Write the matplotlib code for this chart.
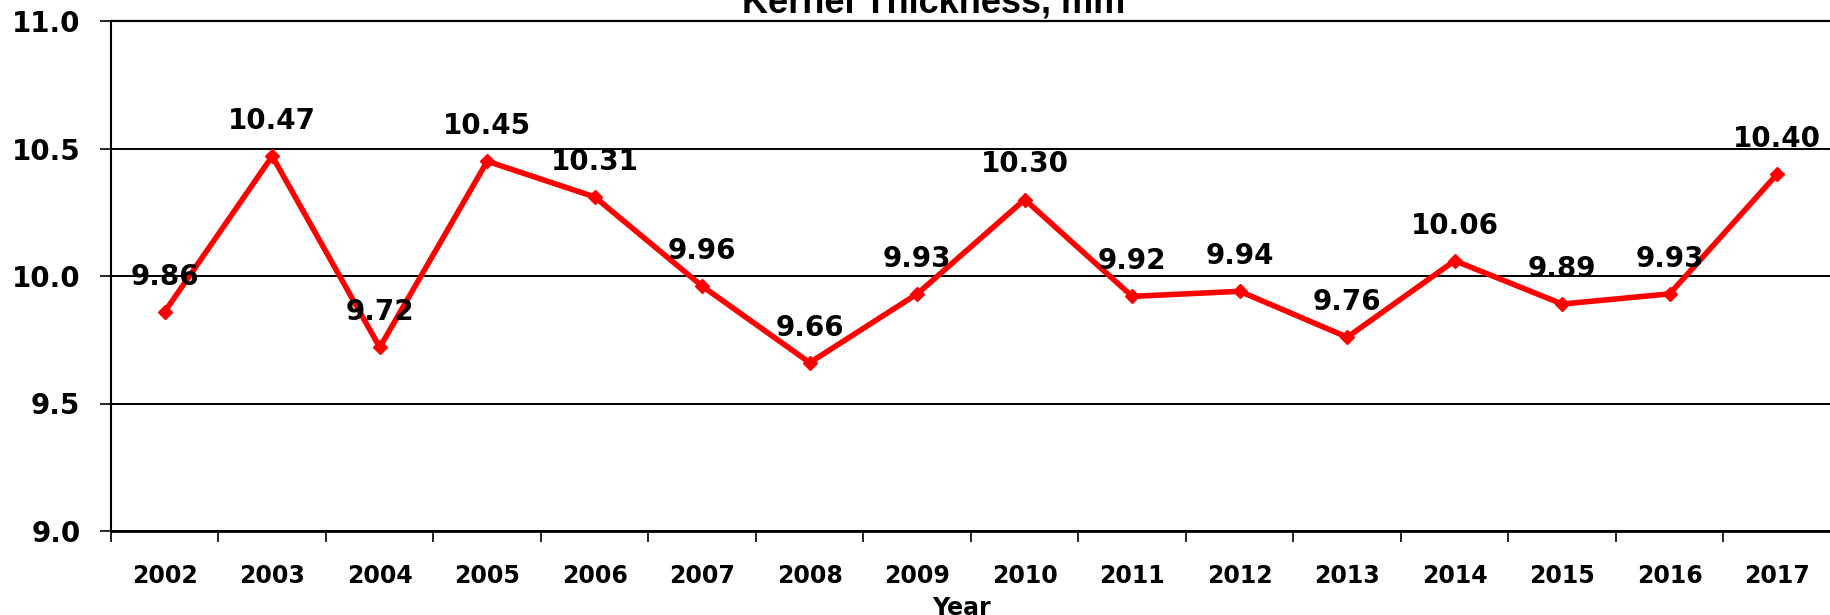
import matplotlib.pyplot as plt
import numpy as np

# kernel thickness per year, mm
years = ['2002', '2003', '2004', '2005', '2006', '2007', '2008', '2009',
         '2010', '2011', '2012', '2013', '2014', '2015', '2016', '2017']
thickness = [9.86, 10.47, 9.72, 10.45, 10.31, 9.96, 9.66, 9.93,
             10.30, 9.92, 9.94, 9.76, 10.06, 9.89, 9.93, 10.40]
yticks = [9.0, 9.5, 10.0, 10.5, 11.0]

plt.rcParams['font.family'] = 'DejaVu Sans'
plt.rcParams['font.weight'] = 'bold'

fig = plt.figure(figsize=(18.31, 6.15), dpi=100)
ax = fig.add_axes([111 / 1831, 1 - 531 / 615, 1 - 111 / 1831, (531 - 21) / 615])

x = np.arange(len(years))
ax.plot(x, thickness, color='#ff0000', lw=4, marker='D', ms=7,
        mec='#ff0000', mfc='#ff0000', zorder=3)

for xi, v in zip(x, thickness):
    ax.annotate(f'{v:.2f}', (xi, v), xytext=(0, 35), textcoords='offset pixels',
                ha='center', va='center', fontsize=20, fontweight='bold', zorder=4)

ax.set_xlim(-0.5, len(years) - 0.5)
ax.set_ylim(9.0, 11.0)
ax.set_yticks(yticks)
ax.set_yticklabels([f'{t:.1f}' for t in yticks], fontsize=20, fontweight='bold')
ax.set_xticks(x)
ax.set_xticklabels(years, fontsize=17, fontweight='bold')
ax.set_xticks(np.arange(-0.5, len(years), 1), minor=True)
ax.tick_params(axis='x', which='major', length=0, pad=24)
ax.tick_params(axis='x', which='minor', length=8, width=1.2, direction='out')
ax.tick_params(axis='y', length=8, width=1.2, direction='out', pad=14)

ax.grid(axis='y', color='black', lw=1.4)
ax.set_axisbelow(True)
ax.spines['right'].set_visible(False)
ax.spines['top'].set_linewidth(1.6)
ax.spines['left'].set_linewidth(1.5)
ax.spines['bottom'].set_linewidth(2)

fig.text(934 / 1831, 1 - 13 / 615, 'Kernel Thickness, mm', ha='center', va='baseline',
         fontsize=26, fontweight='bold', family='Liberation Sans')
fig.text(962 / 1831, 0.0, 'Year', ha='center', va='baseline',
         fontsize=17, fontweight='bold')

fig.savefig('out.png', dpi=100)
